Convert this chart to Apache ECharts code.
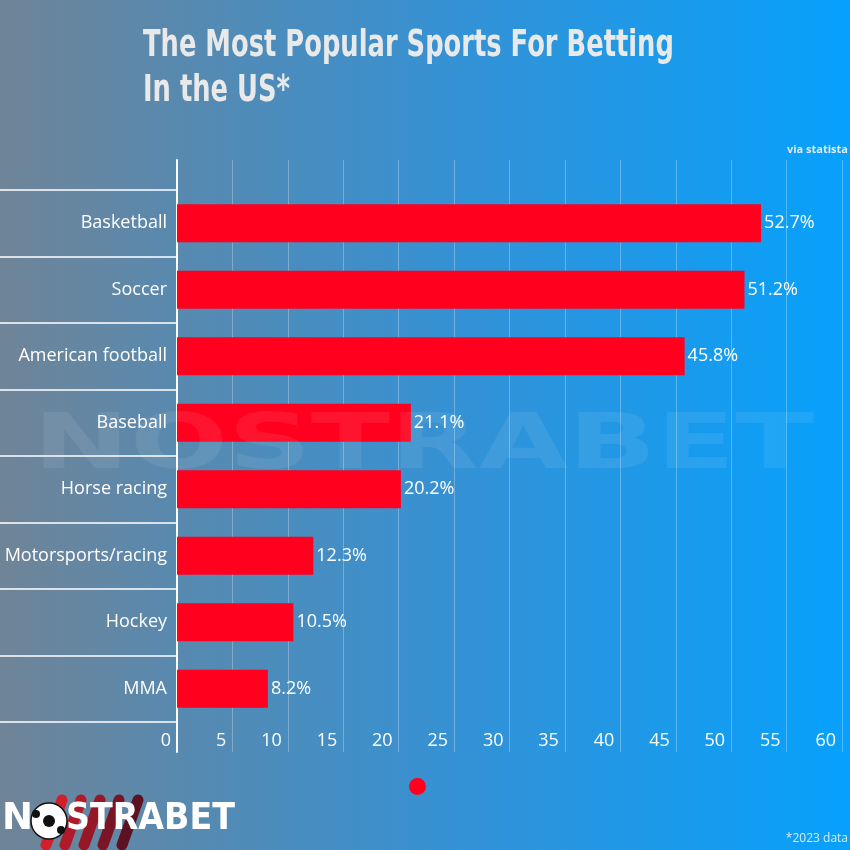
<!DOCTYPE html>
<html><head><meta charset="utf-8">
<script src="https://cdn.jsdelivr.net/npm/echarts@6/dist/echarts.min.js"></script>
<style>html,body{margin:0;padding:0;}#c{width:850px;height:850px;}</style>
</head><body><div id="c"></div>
<script>
const categories = ['Basketball','Soccer','American football','Baseball','Horse racing','Motorsports/racing','Hockey','MMA'];
const shares = [52.7, 51.2, 45.8, 21.1, 20.2, 12.3, 10.5, 8.2];
const xTicks = [0,5,10,15,20,25,30,35,40,45,50,55,60];
const titleLines = ['The Most Popular Sports For Betting','In the US*'];

const chart = echarts.init(document.getElementById('c'));
const FONT = '"Open Sans", "Noto Sans", sans-serif';
const stripeColors = ['#d21f2c','#b01a2a','#961828','#7a1526','#5c1222'];
const stripes = stripeColors.map((c,i)=>({
  type:'line', z:10,
  shape:{x1:46+i*19, y1:845, x2:62+i*19, y2:800},
  style:{stroke:c, lineWidth:11, lineCap:'round'}
}));
chart.setOption({
  backgroundColor:{type:'linear',x:0,y:0,x2:1,y2:0,colorStops:[{offset:0,color:'#6f8497'},{offset:0.55,color:'#3392d6'},{offset:1,color:'#06a1fd'}]},
  animation:false,
  legend:{show:true,left:404,top:773,icon:'circle',itemWidth:17,itemHeight:17,data:[' '],textStyle:{fontSize:1,color:'transparent'}},
  grid:[
    {left:177,right:8,top:190,bottom:128},
    {left:177,right:8,top:160,bottom:98}
  ],
  xAxis:[
    {gridIndex:0,type:'value',min:0,max:60,interval:5,show:false},
    {gridIndex:1,type:'value',min:0,max:60,interval:5,
     axisLine:{show:false},axisTick:{show:false},
     splitLine:{show:true,lineStyle:{color:'rgba(255,255,255,0.28)',width:1}},
     axisLabel:{inside:true,margin:2,align:'right',padding:[0,6,0,0],color:'#ffffff',fontSize:18,fontFamily:FONT,
       formatter:v=>xTicks.indexOf(v)>=0?String(v):''}}
  ],
  yAxis:[
    {gridIndex:0,type:'category',data:categories,inverse:true,
     axisLine:{show:false},
     axisTick:{show:true,length:177,lineStyle:{color:'#ffffff',width:1.5}},
     axisLabel:{color:'#ffffff',fontSize:18,fontFamily:FONT,margin:10}},
    {gridIndex:1,type:'value',min:0,max:1,
     axisLine:{show:true,lineStyle:{color:'#ffffff',width:2}},
     axisTick:{show:false},axisLabel:{show:false},splitLine:{show:false}}
  ],
  series:[{
    name:' ',type:'bar',xAxisIndex:0,yAxisIndex:0,data:shares,barWidth:38,
    itemStyle:{color:'#ff001f'},
    label:{show:true,position:'right',distance:3,color:'#ffffff',fontSize:18,fontFamily:FONT,formatter:p=>p.value+'%'}
  }],
  graphic:[
    {type:'text',x:143,y:27,scaleX:0.678,style:{text:titleLines[0],fill:'#e9e9e9',font:'bold 38px "DejaVu Sans", sans-serif'}},
    {type:'text',x:143,y:72,scaleX:0.678,style:{text:titleLines[1],fill:'#e9e9e9',font:'bold 38px "DejaVu Sans", sans-serif'}},
    {type:'text',x:33,y:410,scaleX:1.52,z:5,style:{text:'NOSTRABET',fill:'rgba(255,255,255,0.08)',font:'900 76px "DejaVu Sans", sans-serif'}},
    {type:'text',right:2,top:144,style:{text:'via statista',fill:'#dfe8f0',font:'bold 11px "Open Sans", sans-serif'}},
    {type:'text',right:2,top:833,style:{text:'*2023 data',fill:'#dfe8f0',font:'12px "Open Sans", sans-serif'}},
    ...stripes,
    {type:'text',x:2,y:801,z:20,style:{text:'N',fill:'#ffffff',font:'900 37px "DejaVu Sans", sans-serif'}},
    {type:'circle',z:20,shape:{cx:49,cy:821,r:18},style:{fill:'#ffffff',stroke:'#111',lineWidth:1.5}},
    {type:'circle',z:21,shape:{cx:49,cy:821,r:6},style:{fill:'#111'}},
    {type:'circle',z:21,shape:{cx:36,cy:814,r:4},style:{fill:'#111'}},
    {type:'circle',z:21,shape:{cx:61,cy:830,r:4},style:{fill:'#111'}},
    {type:'text',x:66,y:801,scaleX:0.9,z:20,style:{text:'STRABET',fill:'#ffffff',font:'900 37px "DejaVu Sans", sans-serif'}}
  ]
});
</script></body></html>
